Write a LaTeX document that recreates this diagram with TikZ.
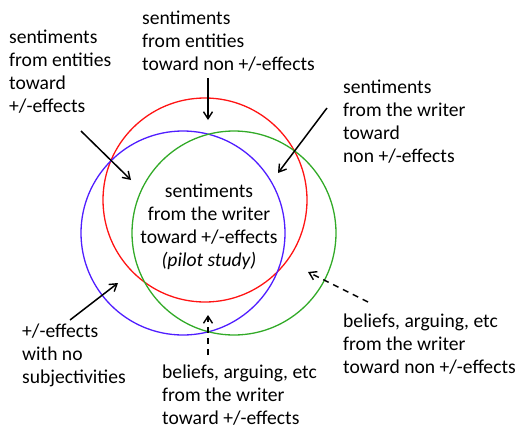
\documentclass[tikz,border=0pt]{standalone}
\usepackage{fontspec}
\setmainfont{Carlito}
\usepackage{tikz}
\usetikzlibrary{arrows.meta}

\definecolor{vennred}{RGB}{255,20,20}
\definecolor{vennblue}{RGB}{80,30,255}
\definecolor{venngreen}{RGB}{50,170,40}

\tikzset{
  lbl/.style={align=left, anchor=west, inner sep=0pt,
    font=\fontsize{19.6}{23}\selectfont},
  pointer/.style={-{Straight Barb[length=7pt,width=9pt,line width=1.4pt]}, line width=1.5pt},
  dpointer/.style={pointer, dash pattern=on 6pt off 5pt},
  ring/.style={line width=1.3pt}
}

\begin{document}
\begin{tikzpicture}[x=1pt, y=-1pt]
  \useasboundingbox (0,0) rectangle (517,429);
  % circles
  \draw[ring, vennred]   (205,200) circle (102);
  \draw[ring, vennblue]  (183,233) circle (102);
  \draw[ring, venngreen] (234,233) circle (102);
  % labels
  \node[lbl] (entpos) at (9,72) {sentiments\\from entities\\toward\\+/-effects};
  \node[lbl] (entnon) at (142,41) {sentiments\\from entities\\toward non +/-effects};
  \node[lbl] (wrnon) at (343,122) {sentiments\\from the writer\\toward\\non +/-effects};
  \node[lbl, align=center, anchor=center] (wrpos) at (209,227)
    {sentiments\\from the writer\\toward +/-effects\\\textit{(pilot study)}};
  \node[lbl] (nosubj) at (22,355) {+/-effects\\with no\\subjectivities};
  \node[lbl] (belpos) at (162,395) {beliefs, arguing, etc\\from the writer\\toward +/-effects};
  \node[lbl] (belnon) at (343,344) {beliefs, arguing, etc\\from the writer\\toward non +/-effects};
  % arrow ends
  \coordinate (a1) at (81,131);  \coordinate (b1) at (131,180);
  \coordinate (a2) at (208,78);  \coordinate (b2) at (208,120);
  \coordinate (a3) at (327,108); \coordinate (b3) at (278,173);
  \coordinate (a4) at (70,320);  \coordinate (b4) at (118,283);
  \coordinate (a5) at (208,355); \coordinate (b5) at (208,315);
  \coordinate (a6) at (368,302); \coordinate (b6) at (308,272);
  \draw[pointer] (a1) -- (b1);
  \draw[pointer] (a2) -- (b2);
  \draw[pointer] (a3) -- (b3);
  \draw[pointer] (a4) -- (b4);
  \draw[dpointer] (a5) -- (b5);
  \draw[dpointer] (a6) -- (b6);
\end{tikzpicture}
\end{document}
